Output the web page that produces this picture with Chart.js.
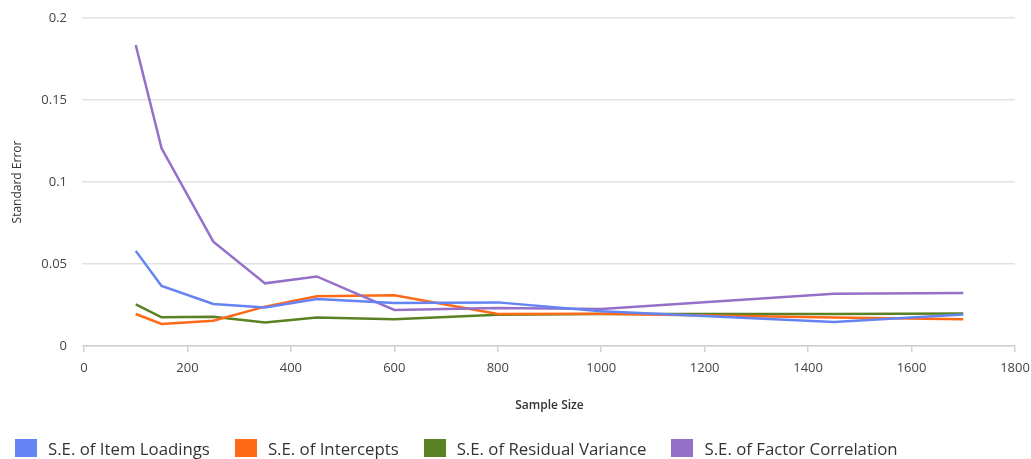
<!DOCTYPE html>
<html>
<head>
<meta charset="utf-8">
<script src="https://cdn.jsdelivr.net/npm/chart.js@4/dist/chart.umd.min.js"></script>
<style>
  html, body { margin: 0; padding: 0; background: #fff; overflow: hidden; }
  #wrap { position: relative; width: 1031px; height: 459px; }
  #c { position: absolute; left: 0; top: 0; }
  #legend { position: absolute; left: 15px; top: 439px; height: 18px; display: flex; align-items: center;
            font-family: "Open Sans", sans-serif; font-size: 16.8px; color: #333; white-space: nowrap; }
  .item { display: flex; align-items: center; margin-right: 25px; }
  .box { width: 22px; height: 18px; margin-right: 11px; }
</style>
</head>
<body>
<div id="wrap">
  <canvas id="c" width="1031" height="459"></canvas>
  <div id="legend"></div>
</div>
<script>
const sampleSizes = [100, 150, 250, 350, 450, 600, 800, 1000, 1450, 1700];
const itemLoadings = [0.058, 0.0366, 0.0256, 0.0235, 0.0286, 0.0262, 0.0266, 0.0212, 0.0146, 0.0192];
const intercepts = [0.0195, 0.0134, 0.0154, 0.024, 0.0303, 0.0309, 0.0195, 0.0197, 0.0174, 0.0163];
const residualVariance = [0.0254, 0.0175, 0.0178, 0.0144, 0.0174, 0.0163, 0.019, 0.0195, 0.0195, 0.0198];
const factorCorrelation = [0.1835, 0.1205, 0.0636, 0.0382, 0.0424, 0.022, 0.0232, 0.0225, 0.0318, 0.0323];
const seriesNames = ["S.E. of Item Loadings", "S.E. of Intercepts", "S.E. of Residual Variance", "S.E. of Factor Correlation"];
const seriesColors = ["#6384f2", "#ff6a17", "#5a8123", "#9470c8"];
const xTicks = [0, 200, 400, 600, 800, 1000, 1200, 1400, 1600, 1800];
const yTicks = [0, 0.05, 0.1, 0.15, 0.2];

const allSeries = [itemLoadings, intercepts, residualVariance, factorCorrelation];
const datasets = allSeries.map((vals, i) => ({
  label: seriesNames[i],
  data: sampleSizes.map((x, j) => ({ x: x, y: vals[j] })),
  borderColor: seriesColors[i],
  backgroundColor: seriesColors[i],
  borderWidth: 2.5,
  pointRadius: 0,
  tension: 0,
  fill: false,
  order: [1, 3, 4, 2][i]
}));

const FONT = "'Open Sans', sans-serif";

new Chart(document.getElementById('c'), {
  type: 'line',
  data: { datasets },
  options: {
    responsive: false,
    animation: false,
    layout: { padding: { top: 18, right: 16, bottom: 43, left: 0 } },
    plugins: { legend: { display: false }, tooltip: { enabled: false } },
    scales: {
      x: {
        type: 'linear',
        min: 0, max: 1800,
        afterBuildTicks: s => { s.ticks = xTicks.map(v => ({ value: v })); },
        afterFit: s => { s.height = 70; s.paddingLeft = 0; s.paddingRight = 0; },
        ticks: { font: { family: FONT, size: 13 }, color: '#444', padding: 8, maxRotation: 0, callback: v => String(v) },
        grid: { drawOnChartArea: false, drawTicks: true, tickLength: 6, color: '#cfcfcf', lineWidth: 1.5 },
        border: { display: true, color: '#cfcfcf', width: 1.5 },
        title: { display: true, text: 'Sample Size', font: { family: FONT, size: 12, weight: '600' }, color: '#333', padding: { top: 0, bottom: 3 } }
      },
      y: {
        min: 0, max: 0.2,
        afterBuildTicks: s => { s.ticks = yTicks.map(v => ({ value: v })); },
        afterFit: s => { s.width = 84; s.paddingTop = 0; s.paddingBottom = 0; },
        ticks: { font: { family: FONT, size: 13 }, color: '#444', padding: 15, callback: v => String(v) },
        grid: { drawTicks: true, tickLength: 2, color: '#e2e2e2', lineWidth: 1.5 },
        border: { display: false },
        title: { display: true, text: 'Standard Error', font: { family: FONT, size: 12 }, color: '#333', padding: { top: 10, bottom: 0 } }
      }
    }
  }
});

const legend = document.getElementById('legend');
seriesNames.forEach((name, i) => {
  const item = document.createElement('div');
  item.className = 'item';
  const box = document.createElement('span');
  box.className = 'box';
  box.style.background = seriesColors[i];
  const txt = document.createElement('span');
  txt.textContent = name;
  item.appendChild(box);
  item.appendChild(txt);
  legend.appendChild(item);
});
</script>
</body>
</html>
